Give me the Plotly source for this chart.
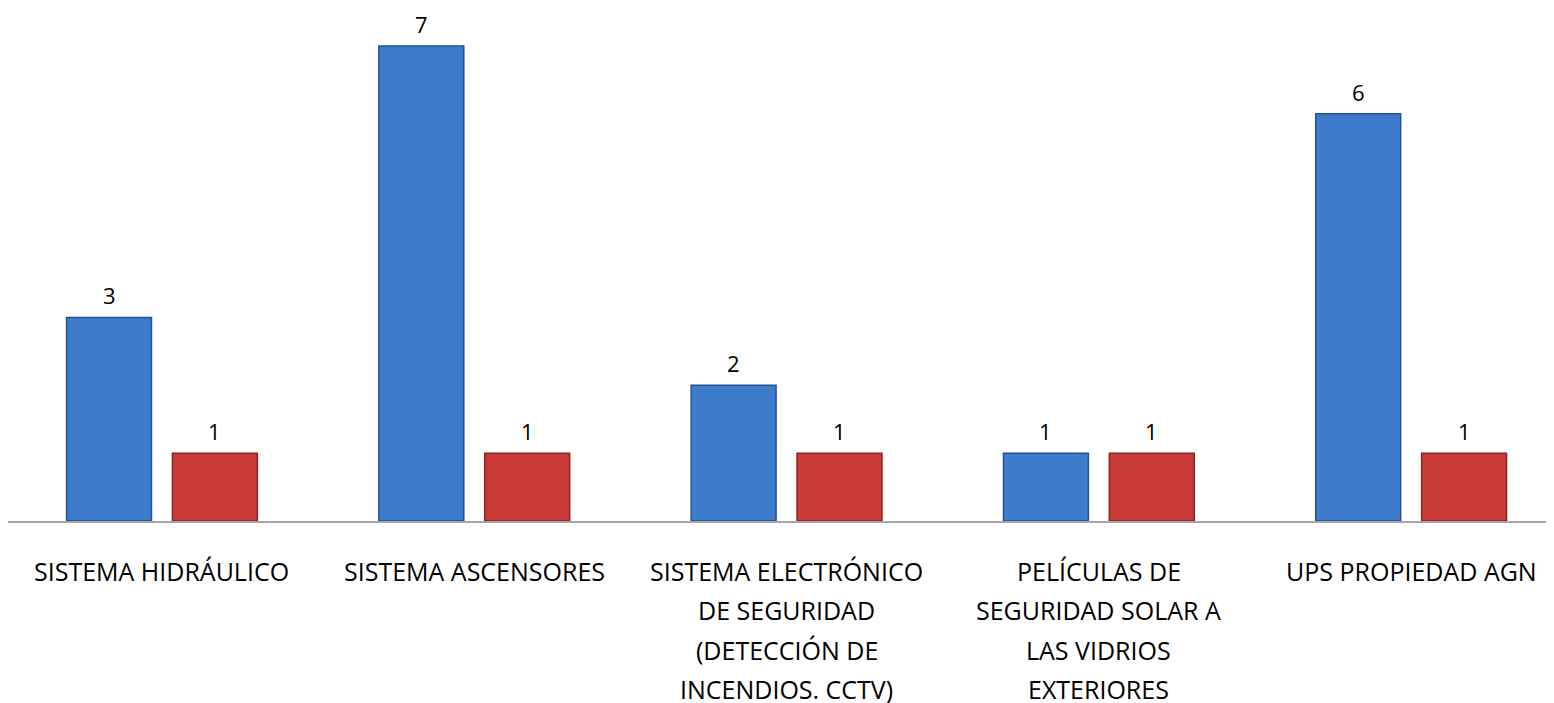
import plotly.graph_objects as go

categories = [
    "SISTEMA HIDRÁULICO",
    "SISTEMA ASCENSORES",
    "SISTEMA ELECTRÓNICO<br>DE SEGURIDAD<br>(DETECCIÓN DE<br>INCENDIOS. CCTV)",
    "PELÍCULAS DE<br>SEGURIDAD SOLAR A<br>LAS VIDRIOS<br>EXTERIORES",
    "UPS PROPIEDAD AGN",
]
serie_azul = [3, 7, 2, 1, 6]
serie_roja = [1, 1, 1, 1, 1]

x = list(range(len(categories)))
FONT = "'Open Sans', Lato, sans-serif"
BARGAP = 0.322
SLOT = (1 - BARGAP) / 2

fig = go.Figure()
fig.add_trace(go.Bar(
    x=x, y=serie_azul, name="Serie 1",
    marker=dict(color="#3D7BCC", line=dict(color="#23528F", width=1.5)),
))
fig.add_trace(go.Bar(
    x=x, y=serie_roja, name="Serie 2",
    marker=dict(color="#C93B39", line=dict(color="#8A2422", width=1.5)),
))

# value labels floating above each bar
for i in x:
    for off, val in ((-SLOT / 2, serie_azul[i]), (SLOT / 2, serie_roja[i])):
        fig.add_annotation(
            x=i + off, y=val, text=str(val), showarrow=False,
            yanchor="bottom", yshift=6, borderpad=0,
            font=dict(size=22, color="#000000", family=FONT),
        )

# category labels, one annotation per line to get the wide line spacing
for i, label in zip(x, categories):
    for k, line in enumerate(label.split("<br>")):
        fig.add_annotation(
            x=i, xref="x", y=0, yref="paper", text=line, showarrow=False,
            yanchor="middle", yshift=-(50 + 39.3 * k),
            font=dict(size=25, color="#000000", family=FONT),
        )

fig.update_layout(
    width=1554, height=703,
    margin=dict(l=0, r=0, t=0, b=190),
    paper_bgcolor="white", plot_bgcolor="white",
    barmode="group", bargap=BARGAP, bargroupgap=0.198,
    showlegend=False,
    font=dict(family=FONT, color="#000000"),
)
fig.update_xaxes(
    range=[-0.493, 4.483],
    showline=True, linecolor="#A6A6A6", linewidth=2,
    ticks="", showticklabels=False, showgrid=False, zeroline=False,
    automargin=False,
)
fig.update_yaxes(
    range=[0, 7.56], visible=False, showgrid=False, zeroline=False,
    automargin=False,
)

fig.write_html("out.html")
